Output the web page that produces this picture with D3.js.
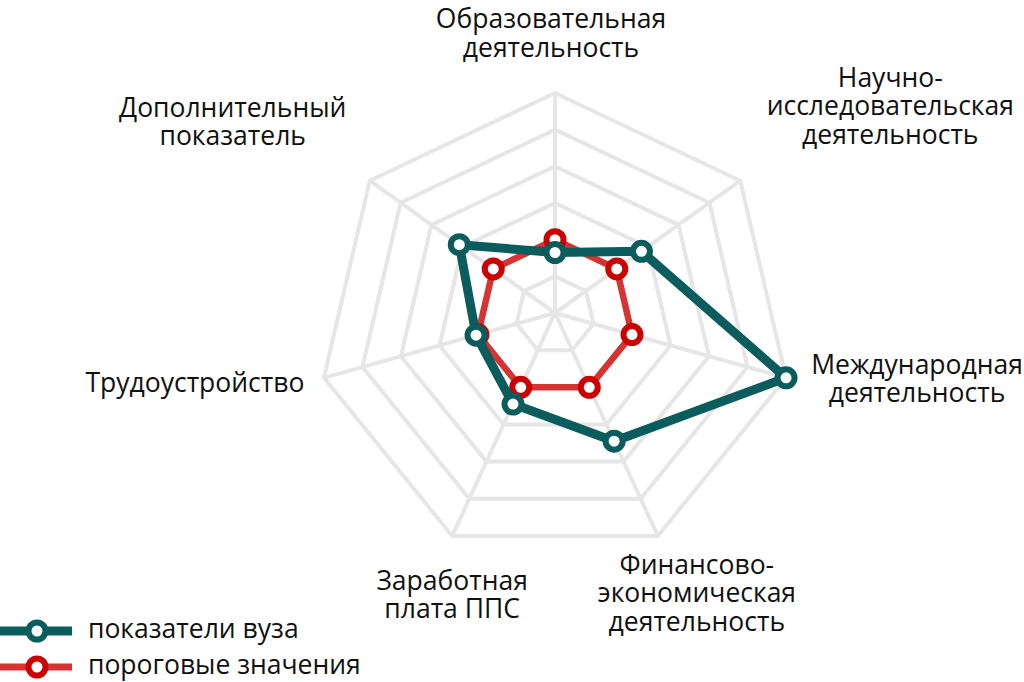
<!DOCTYPE html>
<html>
<head>
<meta charset="utf-8">
<script src="https://cdn.jsdelivr.net/npm/d3@7"></script>
<style>
  html, body { margin: 0; padding: 0; background: #fff; }
  svg text { font-family: "Open Sans", sans-serif; fill: #111; }
</style>
</head>
<body>
<div id="radar"></div>
<script>
// axis names, clockwise from the top (each entry is split into lines)
var axes = [
  ["Образовательная", "деятельность"],
  ["Научно-", "исследовательская", "деятельность"],
  ["Международная", "деятельность"],
  ["Финансово-", "экономическая", "деятельность"],
  ["Заработная", "плата ППС"],
  ["Трудоустройство"],
  ["Дополнительный", "показатель"]
];

// values on a 0..6 scale
var vuzValues = [1.65, 2.8, 6, 3.45, 2.45, 2.05, 3.1];
var thresholdValues = [2, 2, 2, 2, 2, 2, 2];

var seriesNames = ["показатели вуза", "пороговые значения"];
var levels = [1, 2, 3, 4, 5, 6];

var svgWidth = 1024;
var svgHeight = 682;

// chart geometry
var origin = { x: 555, y: 313 };       // where the spokes meet
var frame = { x: 555, y: 326, rx: 237, ry: 233 }; // outer heptagon

var teal = "#0b5c5c";
var red = "#cc0000";
var redLine = "#d63333";
var fontSize = 26.5;

var svg = d3.select("#radar")
  .append("svg")
  .attr("width", svgWidth)
  .attr("height", svgHeight);

var n = axes.length;
var angle = d3.scaleLinear().domain([0, n]).range([0, 2 * Math.PI]);
var r = d3.scaleLinear().domain([0, 6]).range([0, 1]);

// outer vertex of each axis
var ends = d3.range(n).map(function(i) {
  return {
    x: frame.x + frame.rx * Math.sin(angle(i)),
    y: frame.y - frame.ry * Math.cos(angle(i))
  };
});

function pointAt(i, v) {
  var t = r(v);
  return [origin.x + t * (ends[i].x - origin.x), origin.y + t * (ends[i].y - origin.y)];
}

var line = d3.line().curve(d3.curveLinearClosed);

// grid rings
var grid = svg.append("g");
grid.selectAll("path.ring")
  .data(levels)
  .enter()
  .append("path")
  .attr("class", "ring")
  .attr("d", function(l) { return line(d3.range(n).map(function(i) { return pointAt(i, l); })); })
  .attr("fill", "none")
  .attr("stroke", "#e6e6e6")
  .attr("stroke-width", 4)
  .attr("stroke-linejoin", "round");

grid.selectAll("line.spoke")
  .data(d3.range(n))
  .enter()
  .append("line")
  .attr("class", "spoke")
  .attr("x1", origin.x)
  .attr("y1", origin.y)
  .attr("x2", function(i) { return pointAt(i, 6)[0]; })
  .attr("y2", function(i) { return pointAt(i, 6)[1]; })
  .attr("stroke", "#e6e6e6")
  .attr("stroke-width", 4);

// series
function drawSeries(values, lineColor, markColor, width) {
  var pts = values.map(function(v, i) { return pointAt(i, v); });
  var g = svg.append("g");
  g.append("path")
    .attr("d", line(pts))
    .attr("fill", "none")
    .attr("stroke", lineColor)
    .attr("stroke-width", width)
    .attr("stroke-linejoin", "round");
  g.selectAll("circle")
    .data(pts)
    .enter()
    .append("circle")
    .attr("cx", function(d) { return d[0]; })
    .attr("cy", function(d) { return d[1]; })
    .attr("r", 8.5)
    .attr("fill", "#fff")
    .attr("stroke", markColor)
    .attr("stroke-width", 6);
}

drawSeries(thresholdValues, redLine, red, 6.5);
drawSeries(vuzValues, teal, teal, 9);

// axis labels: offset of the first baseline from the axis end
var labelOffsets = [
  [-4, -65], [150, -94], [131, -4], [39, 38], [0, 54], [-129, 14], [-137, -64]
];
var lineHeight = 28.5;

svg.append("g").selectAll("text")
  .data(axes)
  .enter()
  .append("text")
  .attr("text-anchor", "middle")
  .attr("font-size", fontSize)
  .each(function(lines, i) {
    var x = ends[i].x + labelOffsets[i][0];
    var y = ends[i].y + labelOffsets[i][1];
    d3.select(this).selectAll("tspan")
      .data(lines)
      .enter()
      .append("tspan")
      .attr("x", x)
      .attr("y", function(d, k) { return y + k * lineHeight; })
      .text(function(d) { return d; });
  });

// legend
var legend = svg.append("g");
var legendRows = [
  { name: seriesNames[0], line: teal, mark: teal, width: 9, y: 631 },
  { name: seriesNames[1], line: redLine, mark: red, width: 7, y: 667 }
];
legendRows.forEach(function(row) {
  legend.append("line")
    .attr("x1", 0).attr("x2", 72)
    .attr("y1", row.y).attr("y2", row.y)
    .attr("stroke", row.line)
    .attr("stroke-width", row.width);
  legend.append("circle")
    .attr("cx", 37).attr("cy", row.y)
    .attr("r", 8.5)
    .attr("fill", "#fff")
    .attr("stroke", row.mark)
    .attr("stroke-width", 6);
  legend.append("text")
    .attr("x", 88)
    .attr("y", row.y + 7)
    .attr("font-size", fontSize)
    .text(row.name);
});
</script>
</body>
</html>
